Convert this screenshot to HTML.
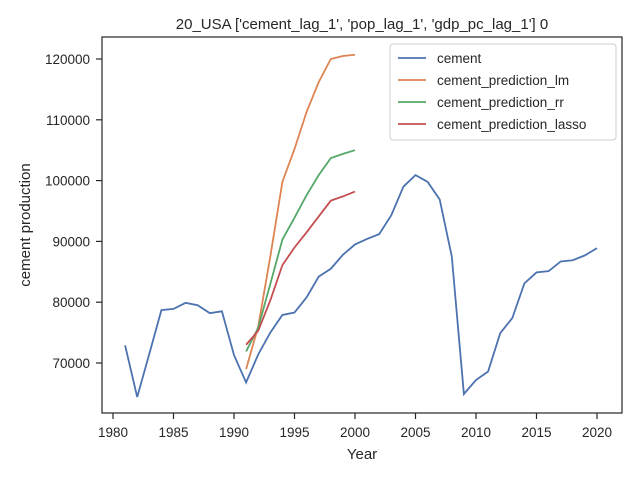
<!DOCTYPE html>
<html><head><meta charset="utf-8"><style>
body{margin:0;background:#fff;font-family:"Liberation Sans",sans-serif}
svg text{font-family:"Liberation Sans",Arial,sans-serif;fill:#262626}
</style></head><body>
<svg id="c" width="640" height="480" xmlns="http://www.w3.org/2000/svg"></svg>
<script>
const years=[1981,1982,1983,1984,1985,1986,1987,1988,1989,1990,1991,1992,1993,1994,1995,1996,1997,1998,1999,2000,2001,2002,2003,2004,2005,2006,2007,2008,2009,2010,2011,2012,2013,2014,2015,2016,2017,2018,2019,2020];
const cement=[72900,64400,71500,78700,78900,79900,79500,78200,78500,71300,66800,71400,75000,77900,78300,80800,84200,85500,87800,89500,90400,91200,94300,99000,100900,99800,96900,87500,64900,67200,68600,74900,77400,83100,84900,85100,86700,86900,87700,88900];
const predYears=[1991,1992,1993,1994,1995,1996,1997,1998,1999,2000];
const lm=[69000,76000,87500,99800,105200,111300,116200,120000,120500,120700];
const rr=[71900,75800,83000,90300,93900,97600,100900,103700,104400,105000];
const lasso=[73000,75300,80300,86100,89000,91500,94100,96700,97400,98200];
const xTicks=[1980,1985,1990,1995,2000,2005,2010,2015,2020];
const yTicks=[70000,80000,90000,100000,110000,120000];
const L=102,R=622,T=37,B=413;
const X=v=>113+(v-1980)*(597-113)/40;
const Y=v=>363-(v-70000)*(363-59)/50000;
const s=document.getElementById('c');const NS='http://www.w3.org/2000/svg';
function mk(t,a,p){const e=document.createElementNS(NS,t);for(const k in a)e.setAttribute(k,a[k]);(p||s).appendChild(e);return e;}
function txt(x,y,str,a){const e=mk('text',Object.assign({x:x,y:y,'font-size':'13.5'},a||{}));e.textContent=str;return e;}
const t=txt(362,29,"20_USA ['cement_lag_1', 'pop_lag_1', 'gdp_pc_lag_1'] 0",{'text-anchor':'middle','font-size':'15'});

xTicks.forEach(v=>{const x=X(v);mk('line',{x1:x,x2:x,y1:B,y2:B+6,stroke:'#262626','stroke-width':1.2});
const e=txt(x,437,String(v),{'text-anchor':'middle'});});
yTicks.forEach(v=>{const y=Y(v);mk('line',{x1:L-6,x2:L,y1:y,y2:y,stroke:'#262626','stroke-width':1.2});
const e=txt(L-12,y+5,String(v),{'text-anchor':'end'});});
const xt=txt(362,459,'Year',{'text-anchor':'middle','font-size':'15'});
const yt=txt(0,0,'cement production',{'text-anchor':'middle','font-size':'15',transform:'translate(30,225) rotate(-90)'});
function line(xs,ys,c,name){const p=mk('polyline',{points:xs.map((x,i)=>X(x)+','+Y(ys[i])).join(' '),fill:'none',stroke:c,'stroke-width':1.8});
}
line(years,cement,'#4c72b0','cement-line');
line(predYears,lm,'#dd8452','lm-line');
line(predYears,rr,'#55a868','rr-line');
line(predYears,lasso,'#c44e52','lasso-line');
const fr=mk('rect',{x:L,y:T,width:R-L,height:B-T,fill:'none',stroke:'#262626','stroke-width':1.2});

const lg=mk('g',{});
mk('rect',{x:390,y:44,width:226,height:96,rx:3,fill:'#fff',stroke:'#ccc','stroke-width':1},lg);
[['cement','#4c72b0'],['cement_prediction_lm','#dd8452'],['cement_prediction_rr','#55a868'],['cement_prediction_lasso','#c44e52']].forEach((d,i)=>{
const y=58+i*22;const g=mk('g',{},lg);
mk('line',{x1:398,x2:426,y1:y,y2:y,stroke:d[1],'stroke-width':1.8},g);
const e=mk('text',{x:437,y:y+5,'font-size':'13.5'},g);e.textContent=d[0];});
</script></body></html>
